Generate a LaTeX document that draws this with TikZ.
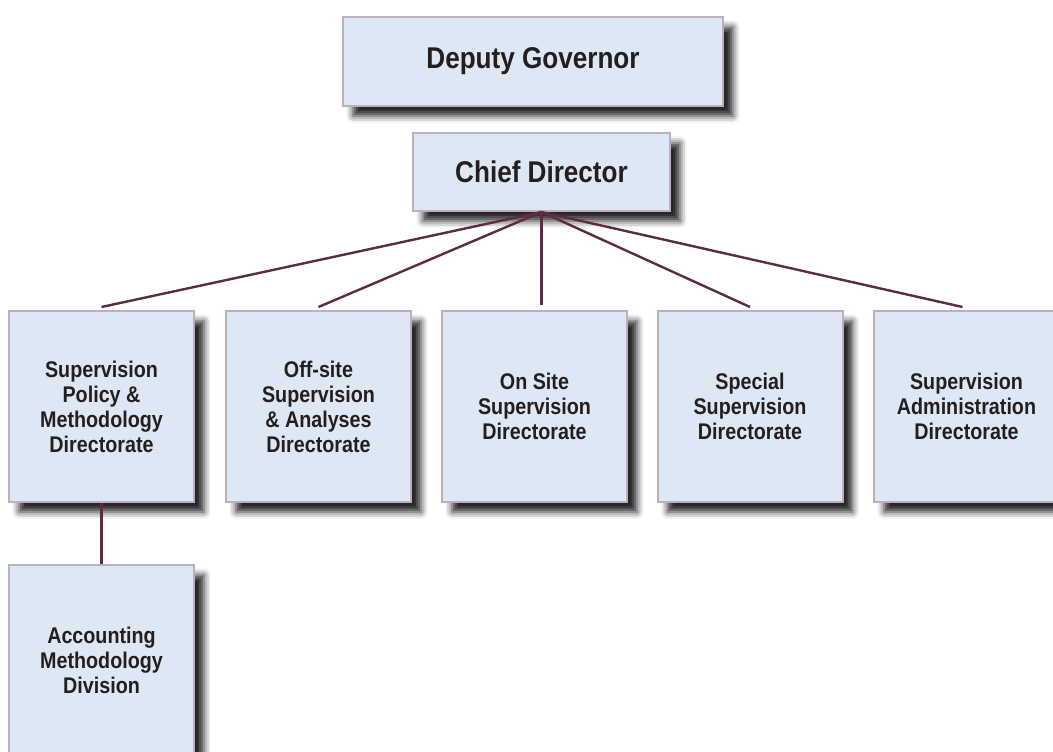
\documentclass[tikz,border=0pt]{standalone}
\usepackage{fontspec}
\setmainfont{Liberation Sans}
\newfontfamily\headfont[FakeStretch=0.87]{Liberation Sans}
\usetikzlibrary{shadows.blur}

\definecolor{boxfill}{HTML}{DEE7F4}
\definecolor{boxline}{HTML}{BCB0BF}
\definecolor{linkcol}{HTML}{5B2C43}
\definecolor{txtcol}{HTML}{231F20}

\tikzset{
  orgbox/.style={draw=boxline, line width=1.5pt, fill=boxfill, text=txtcol,
    align=center, inner sep=0pt,
    blur shadow={shadow xshift=7.5pt, shadow yshift=-7.5pt,
      shadow blur radius=5pt, shadow opacity=85}},
  headbox/.style={orgbox, font=\headfont\bfseries\fontsize{22.5}{27}\selectfont},
  unitbox/.style={orgbox, font=\headfont\bfseries\fontsize{17}{18.75}\selectfont,
    minimum width=138.75pt, minimum height=143.25pt},
  link/.style={draw=linkcol, line width=1.8pt}
}

\begin{document}
\begin{tikzpicture}[x=0.75pt,y=-0.75pt]
\useasboundingbox (0,0) rectangle (1053,751);

% top of the chart
\node[headbox, minimum width=285pt, minimum height=66.75pt] (dg) at (533,61.5) {Deputy Governor};
\node[headbox, minimum width=192.75pt, minimum height=58.5pt] (cd) at (541.5,172) {Chief Director};

% directorates
\node[unitbox] (spm) at (101.5,406.5) {Supervision\\Policy \&\\Methodology\\Directorate};
\node[unitbox] (ossa) at (318.5,406.5) {Off-site\\Supervision\\\& Analyses\\Directorate};
\node[unitbox] (ons) at (534.5,406.5) {On Site\\Supervision\\Directorate};
\node[unitbox] (ss) at (750,406.5) {Special\\Supervision\\Directorate};
\node[unitbox] (sa) at (966.5,406.5) {Supervision\\Administration\\Directorate};

% division
\node[unitbox] (amd) at (101.5,660.5) {Accounting\\Methodology\\Division};

% links
\foreach \unit in {spm,ossa,ss}
  \draw[link] (cd.south) -- ([yshift=2.25pt]\unit.north);
\draw[link] (cd.south) -- ([xshift=-3pt,yshift=2.25pt]sa.north);
\draw[link] (cd.south) -- ([yshift=3.75pt]cd.south |- ons.north);
\draw[link] (spm.south) -- (amd.north);
\end{tikzpicture}
\end{document}
